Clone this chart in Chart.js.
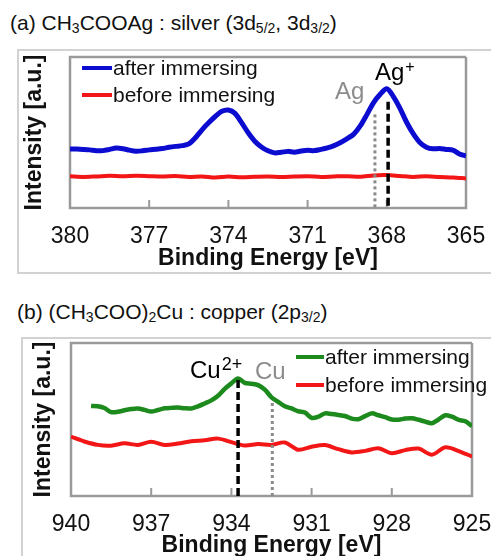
<!DOCTYPE html>
<html>
<head>
<meta charset="utf-8">
<script src="https://cdn.jsdelivr.net/npm/chart.js@4.4.0/dist/chart.umd.min.js"></script>
<style>
  html, body { margin: 0; padding: 0; background: #fff; width: 491px; height: 556px; overflow: hidden;
    font-family: "Liberation Sans", Arial, sans-serif; position: relative; }
  .title { position: absolute; font-size: 21px; line-height: 24px; color: #111; white-space: nowrap; }
  .title sub { font-size: 14px; line-height: 0; vertical-align: -3px; }
  .frame { position: absolute; border: 2px solid #d2d2d2; }
  canvas { position: absolute; left: 0; }
</style>
</head>
<body>
<div class="title" style="left:10px; top:11px;">(a) CH<sub>3</sub>COOAg : silver (3d<sub>5/2</sub>, 3d<sub>3/2</sub>)</div>
<div class="frame" style="left:17px; top:49px; width:500px; height:221px;"></div>
<canvas id="chartA" width="508" height="240" style="top:40px;"></canvas>

<div class="title" style="left:17px; top:300px;">(b) (CH<sub>3</sub>COO)<sub>2</sub>Cu : copper (2p<sub>3/2</sub>)</div>
<div class="frame" style="left:21px; top:337px; width:500px; height:300px;"></div>
<canvas id="chartB" width="514" height="240" style="top:330px;"></canvas>

<script>
const FONT = '"Liberation Sans", Arial, sans-serif';

// ---- (a) Ag 3d region ----
const energyAfterA = [380, 379.75, 379.5, 379.25, 379, 378.75, 378.5, 378.25, 378, 377.75, 377.5, 377.25,
  377, 376.75, 376.5, 376.25, 376, 375.75, 375.5, 375.25, 375, 374.75, 374.5, 374.25, 374, 373.75, 373.5,
  373.25, 373, 372.75, 372.5, 372.25, 372, 371.75, 371.5, 371.25, 371, 370.75, 370.5, 370.25, 370, 369.75,
  369.5, 369.25, 369, 368.75, 368.5, 368.25, 368, 367.75, 367.5, 367.25, 367, 366.75, 366.5, 366.25, 366,
  365.75, 365.5, 365.25, 365];
const intensityAfterA = [39.1, 39.0, 38.8, 38.5, 37.9, 38.0, 38.8, 39.7, 39.3, 38.3, 37.6, 37.9,
  38.5, 38.9, 39.4, 40.2, 40.8, 41.3, 42.4, 46.5, 51.8, 56.4, 60.6, 64.0, 64.9, 62.7, 56.5,
  49.8, 44.2, 40.4, 37.9, 36.5, 36.9, 37.5, 37.0, 37.7, 38.3, 38.0, 38.8, 39.8, 41.3, 43.4,
  46.0, 48.9, 54.5, 62.0, 69.8, 75.3, 79.0, 73.8, 66.0, 56.8, 49.2, 43.4, 40.3, 39.2, 39.4,
  38.8, 38.4, 35.8, 34.4];
const energyBeforeA = [380, 379.5, 379, 378.5, 378, 377.5, 377, 376.5, 376, 375.5, 375, 374.5, 374, 373.5,
  373, 372.5, 372, 371.5, 371, 370.5, 370, 369.5, 369, 368.5, 368, 367.5, 367, 366.5, 366, 365.5, 365];
const intensityBeforeA = [21.0, 20.6, 20.9, 21.3, 21.0, 21.4, 21.1, 20.8, 21.2, 20.6, 20.9, 20.2, 20.8, 20.4,
  20.7, 20.9, 20.5, 20.8, 21.0, 20.6, 20.9, 21.1, 20.7, 21.6, 21.8, 21.2, 20.6, 21.0, 20.5, 20.2, 19.6];
const ticksA = [380, 377, 374, 371, 368, 365];
// reference energies: Ag+ and Ag (eV), with the top of each marker line
const markerEnergyA = [367.95, 368.45];
const markerTopA = [70.4, 62.0];

// ---- (b) Cu 2p3/2 region ----
const energyAfterB = [939.25, 939, 938.75, 938.5, 938.25, 938, 937.75, 937.5, 937.25, 937, 936.75, 936.5,
  936.25, 936, 935.75, 935.5, 935.25, 935, 934.75, 934.5, 934.25, 934, 933.75, 933.5, 933.25, 933, 932.75,
  932.5, 932.25, 932, 931.75, 931.5, 931.25, 931, 930.75, 930.5, 930.25, 930, 929.75, 929.5, 929.25, 929,
  928.75, 928.5, 928.25, 928, 927.75, 927.5, 927.25, 927, 926.75, 926.5, 926.25, 926, 925.75, 925.5,
  925.25, 925];
const intensityAfterB = [58.8, 58.6, 57.5, 54.8, 55.0, 56.0, 56.8, 57.2, 56.3, 55.2, 56.2, 57.3,
  57.6, 57.8, 57.4, 57.2, 58.6, 60.5, 62.5, 65.5, 70.0, 73.6, 76.8, 74.0, 73.4, 72.5, 69.5,
  64.5, 61.5, 58.6, 57.2, 55.4, 54.5, 51.0, 51.8, 54.0, 53.6, 53.0, 52.3, 50.6, 50.2, 52.2,
  54.0, 52.8, 51.5, 50.0, 49.9, 50.6, 50.8, 49.8, 48.6, 47.6, 50.0, 52.8, 51.8, 49.8,
  48.8, 45.6];
const energyBeforeB = [940, 939.5, 939, 938.5, 938, 937.5, 937, 936.5, 936, 935.5, 935, 934.5, 934, 933.5,
  933, 932.5, 932, 931.5, 931, 930.5, 930, 929.5, 929, 928.5, 928, 927.5, 927, 926.5, 926, 925.5, 925];
const intensityBeforeB = [38.8, 35.6, 33.4, 32.9, 34.4, 33.4, 35.4, 33.4, 34.3, 35.8, 36.4, 37.5, 35.2, 33.0,
  34.0, 33.4, 35.0, 30.2, 32.2, 33.3, 30.6, 28.5, 29.5, 31.2, 28.0, 30.0, 31.0, 27.0, 31.8, 29.4, 25.8];
const ticksB = [940, 937, 934, 931, 928, 925];
// reference energies: Cu2+ and Cu (eV)
const markerEnergyB = [933.75, 932.47];
const markerTopB = [75.8, 60.8];

const Y_MIN = 0, Y_MAX = 100;
const series = (xs, ys) => xs.map((e, i) => ({ x: e, y: ys[i] }));
const vline = (e, top) => [{ x: e, y: top }, { x: e, y: Y_MIN }];
// closed outline along the axis limits
const outline = (lo, hi) => [{ x: lo, y: Y_MAX }, { x: hi, y: Y_MAX }, { x: hi, y: Y_MIN },
  { x: lo, y: Y_MIN }, { x: lo, y: Y_MAX }];
// short marks rising from the bottom edge at each inner tick value
const tickMarks = (ticks, len) => ticks.slice(1, -1).flatMap(t => [{ x: t, y: Y_MIN }, { x: t, y: len }, { x: t, y: null }]);

// peak labels and the legend placed inside the plot
function decor(cfg) {
  return {
    id: 'decor',
    afterDraw(chart) {
      const ctx = chart.ctx;
      const x = chart.scales.x, y = chart.scales.y;
      ctx.save();
      ctx.setLineDash([]);
      ctx.textAlign = 'left';
      ctx.textBaseline = 'alphabetic';
      cfg.labels.forEach(l => {
        const px = x.getPixelForValue(l.x), py = y.getPixelForValue(l.y);
        ctx.fillStyle = l.color;
        ctx.font = `24px ${FONT}`;
        ctx.fillText(l.text, px, py);
        if (l.sup) {
          const w = ctx.measureText(l.text).width;
          ctx.font = `${l.supSize}px ${FONT}`;
          ctx.fillText(l.sup, px + w + 1, py - 8);
        }
      });

      const lg = cfg.legend;
      chart.data.datasets.filter(d => d.inLegend).forEach((d, i) => {
        const lx = x.left + lg.dx, ly = y.top + lg.dy + i * lg.gap;
        ctx.strokeStyle = d.borderColor;
        ctx.lineWidth = 4;
        ctx.beginPath();
        ctx.moveTo(lx, ly);
        ctx.lineTo(lx + lg.swatch, ly);
        ctx.stroke();
        ctx.fillStyle = '#111';
        ctx.font = `21px ${FONT}`;
        ctx.textBaseline = 'middle';
        ctx.fillText(d.label, lx + lg.swatch + 1, ly + 1);
      });
      ctx.restore();
    }
  };
}

function makePanel(id, p) {
  return new Chart(document.getElementById(id), {
    type: 'line',
    data: {
      datasets: [
        { label: p.markerNames[0], data: vline(p.markerEnergy[0], p.markerTop[0]), borderColor: '#000',
          borderWidth: 3.5, borderDash: [8, 4], pointRadius: 0 },
        { label: p.markerNames[1], data: vline(p.markerEnergy[1], p.markerTop[1]), borderColor: '#8a8a8a',
          borderWidth: 3, borderDash: [3, 3], pointRadius: 0 },
        { label: 'after immersing', data: series(p.e1, p.v1), borderColor: p.color1, borderWidth: p.width1,
          pointRadius: 0, tension: 0.3, inLegend: true },
        { label: 'before immersing', data: series(p.e2, p.v2), borderColor: '#f21616', borderWidth: 4,
          pointRadius: 0, tension: 0.3, inLegend: true },
        { label: 'ticks', data: tickMarks(p.ticks, 5.3), borderColor: '#9a9a9a', borderWidth: 2,
          pointRadius: 0, spanGaps: false, clip: 4 },
        { label: 'frame', data: outline(p.min, p.max), borderColor: '#9a9a9a', borderWidth: 2.5,
          pointRadius: 0, clip: 4 }
      ]
    },
    options: {
      responsive: false,
      animation: false,
      events: [],
      layout: { autoPadding: false, padding: p.padding },
      plugins: { legend: { display: false }, tooltip: { enabled: false } },
      scales: {
        x: {
          type: 'linear', position: 'bottom', min: p.min, max: p.max, reverse: true,
          afterBuildTicks: s => { s.ticks = p.ticks.map(v => ({ value: v })); },
          ticks: { color: '#111', font: { family: FONT, size: 23 }, padding: 15, maxRotation: 0, autoSkip: false },
          grid: { display: false, drawTicks: false },
          border: { display: false },
          title: { display: true, text: 'Binding Energy [eV]', color: '#111', padding: 0,
                   font: { family: FONT, size: 23, weight: 'bold' } },
          afterFit: s => { s.height = p.xHeight; }
        },
        y: {
          position: 'left', min: Y_MIN, max: Y_MAX,
          ticks: { display: false },
          grid: { display: false, drawTicks: false },
          border: { display: false },
          title: { display: true, text: 'Intensity [a.u.]', color: '#111', padding: 0,
                   font: { family: FONT, size: 23, weight: 'bold' } },
          afterFit: s => { s.width = p.yWidth; }
        }
      }
    },
    plugins: [decor(p.decor)]
  });
}

makePanel('chartA', {
  e1: energyAfterA, v1: intensityAfterA, e2: energyBeforeA, v2: intensityBeforeA,
  color1: '#0c0cd0', width1: 5, ticks: ticksA, min: 365, max: 380,
  markerEnergy: markerEnergyA, markerTop: markerTopA, markerNames: ['Ag+', 'Ag'],
  padding: { left: 21, top: 17, right: 42, bottom: 8 }, xHeight: 64, yWidth: 49,
  decor: {
    labels: [
      { text: 'Ag', sup: '+', supSize: 16, x: 368.45, y: 84.8, color: '#000' },
      { text: 'Ag', x: 369.96, y: 72.2, color: '#8c8c8c' }
    ],
    legend: { dx: 12, dy: 11, gap: 27, swatch: 30 }
  }
});

makePanel('chartB', {
  e1: energyAfterB, v1: intensityAfterB, e2: energyBeforeB, v2: intensityBeforeB,
  color1: '#1c8a1c', width1: 4.5, ticks: ticksB, min: 925, max: 940,
  markerEnergy: markerEnergyB, markerTop: markerTopB, markerNames: ['Cu2+', 'Cu'],
  padding: { left: 30, top: 13, right: 42, bottom: 11 }, xHeight: 63, yWidth: 41,
  decor: {
    labels: [
      { text: 'Cu', sup: '2+', supSize: 18, x: 935.55, y: 77.1, color: '#000' },
      { text: 'Cu', x: 933.12, y: 76.5, color: '#8c8c8c' }
    ],
    legend: { dx: 225, dy: 14, gap: 28, swatch: 28 }
  }
});
</script>
</body>
</html>
